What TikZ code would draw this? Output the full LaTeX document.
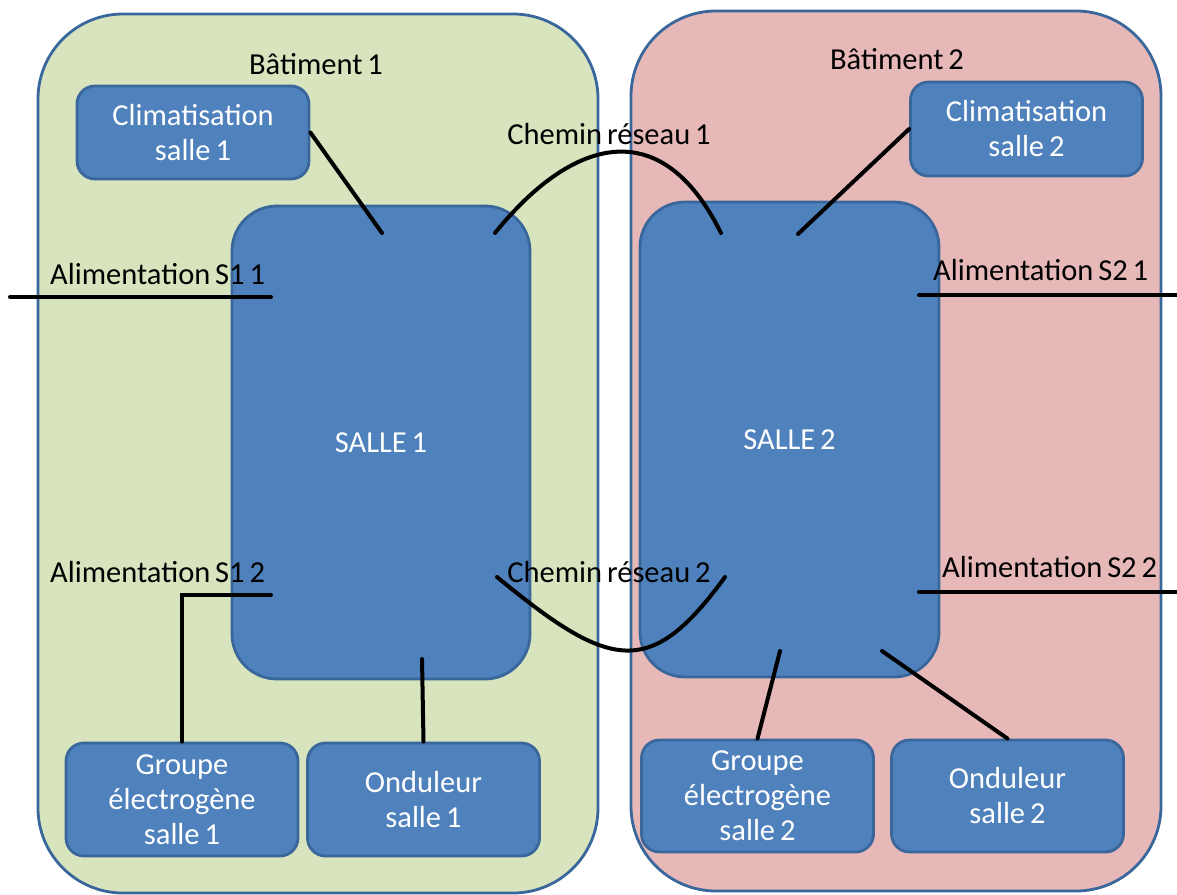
\documentclass[tikz,border=0pt]{standalone}
\usepackage{fontspec}
\setmainfont{Carlito}
\usetikzlibrary{positioning,calc}

\definecolor{boxblue}{HTML}{4F81BD}
\definecolor{boxedge}{HTML}{3A679B}
\definecolor{greenbg}{HTML}{D7E4BD}
\definecolor{redbg}{HTML}{E6B9B8}

\newcommand\diagfont{\fontsize{30.5}{35}\selectfont\spaceskip=0.16em\relax}

\begin{document}
\begin{tikzpicture}[x=1pt, y=-1pt,
  every node/.style={font=\diagfont},
  building/.style={draw=boxedge, line width=2.8pt, rounded corners=85pt},
  room/.style={draw=boxedge, fill=boxblue, line width=2.8pt,
    rounded corners=45pt, text=white},
  device/.style={draw=boxedge, fill=boxblue, line width=2.8pt,
    rounded corners=18pt, text=white, align=center, minimum width=232pt},
  label/.style={inner sep=0pt},
  link/.style={line width=4pt, line cap=round}]

\useasboundingbox (0,0) rectangle (1177,894);

% batiments
\node [building, fill=greenbg, minimum width=560pt, minimum height=879pt]
  (bat1) at (318,453.5) {};
\node [building, fill=redbg, minimum width=530pt, minimum height=880pt]
  (bat2) at (896,451) {};

% salles
\node [room, minimum width=298pt, minimum height=473pt] (salle1) at (381,442.5) {SALLE 1};
\node [room, minimum width=299pt, minimum height=475pt] (salle2) at (789.5,439.5) {SALLE 2};

% equipements
\node [device, minimum height=93pt] (clim1) at (193,132.5) {Climatisation\\salle 1};
\node [device, minimum height=94pt] (clim2) at (1026.5,129) {Climatisation\\salle 2};
\node [device, minimum height=113pt] (groupe1) at (182,799.5) {Groupe\\électrogène\\salle 1};
\node [device, minimum height=113pt] (ond1) at (423.5,799.5) {Onduleur\\salle 1};
\node [device, minimum height=112pt] (groupe2) at (757.5,796) {Groupe\\électrogène\\salle 2};
\node [device, minimum height=112pt] (ond2) at (1007.5,796) {Onduleur\\salle 2};

% textes
\node [label, anchor=base] (bat1-label) at (316,74) {Bâtiment 1};
\node [label, anchor=base] (bat2-label) at (897,69) {Bâtiment 2};
\node [label, anchor=base] (chemin1-label) at (609,144) {Chemin réseau 1};
\node [label, anchor=base] (chemin2-label) at (609,582) {Chemin réseau 2};
\foreach \n/\x/\y/\t in {s1a/50/284/S1 1, s1b/50/582/S1 2, s2a/933/280/S2 1, s2b/942/577/S2 2}
  \node [label, anchor=base west] (alim-\n-label) at (\x,\y) {Alimentation \t};

% points d'arrivee dans les salles
\coordinate (salle1-clim) at (382,233);
\coordinate (salle1-net1) at (495,233);
\coordinate (salle1-alim1) at (271,297);
\coordinate (salle1-alim2) at (271,595);
\coordinate (salle1-net2) at (497,577);
\coordinate (salle1-ond) at (422,659);
\coordinate (salle2-net1) at (721,233);
\coordinate (salle2-clim) at (798,234);
\coordinate (salle2-alim1) at (919,295);
\coordinate (salle2-alim2) at (919,592);
\coordinate (salle2-net2) at (725,577);
\coordinate (salle2-groupe) at (780,651);
\coordinate (salle2-ond) at (882,651);
\coordinate (alim-s1a) at (10,297);
\coordinate (alim-s2a) at (1177,295);
\coordinate (alim-s2b) at (1177,592);

% liaisons
\draw [link] (clim1.east) -- (salle1-clim);
\draw [link] (clim2.west) -- (salle2-clim);
\draw [link] (salle1-net1) .. controls (570,140) and (660,110) .. (salle2-net1);
\draw [link] (salle1-net2) .. controls (610,670) and (650,680) .. (salle2-net2);
\draw [link] (alim-s1a) -- (salle1-alim1);
\draw [link] (salle1-alim2) -| (groupe1.north);
\draw [link] (salle1-ond) -- (ond1.north);
\draw [link] (salle2-alim1) -- (alim-s2a);
\draw [link] (salle2-alim2) -- (alim-s2b);
\draw [link] (salle2-groupe) -- (groupe2.north);
\draw [link] (salle2-ond) -- (ond2.north);

\end{tikzpicture}
\end{document}
